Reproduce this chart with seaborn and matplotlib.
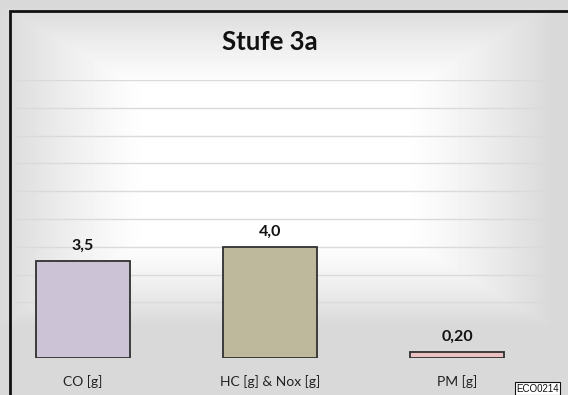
import numpy as np
import pandas as pd
import matplotlib
matplotlib.use("Agg")
import matplotlib.pyplot as plt
from matplotlib.patches import Rectangle
import seaborn as sns

# ---- data ----
categories = ["CO [g]", "HC [g] & Nox [g]", "PM [g]"]
values = [3.5, 4.0, 0.20]
value_labels = ["3,5", "4,0", "0,20"]
bar_colors = ["#ccc0da", "#c4bd97", "#f2b9b9"]
title = "Stufe 3a"
corner_tag = "ECO0214"

W, H = 568, 395
sns.set_theme(style="white")
plt.rcParams["font.family"] = ["Lato", "DejaVu Sans"]

fig = plt.figure(figsize=(W / 100, H / 100), dpi=100)

# background gradient (grey edges, white centre)
bg = fig.add_axes([0, 0, 1, 1], zorder=-10)
yy, xx = np.mgrid[0:H, 0:W]
cx, cy = 275, 165
dx = np.abs(xx - cx) / 290.0
dy = np.abs(yy - cy) / 160.0
d = np.clip(np.maximum(dx * 1.05, dy), 0, 1)
t = np.clip((d - 0.45) / 0.55, 0, 1)
img = 1.0 - 0.15 * t ** 1.3
bg.imshow(img, cmap="gray", vmin=0, vmax=1, aspect="auto", extent=[0, W, H, 0])
bg.set_xlim(0, W)
bg.set_ylim(H, 0)
bg.axis("off")

# plot axes in pixel coordinates
left_px, right_px = 15, 568
top_px, base_px = 80, 358
ax = fig.add_axes([left_px / W, (H - base_px) / H,
                   (right_px - left_px) / W, (base_px - top_px) / H])
ax.patch.set_alpha(0)

df = pd.DataFrame({"cat": categories, "val": values})
sns.barplot(data=df, x="cat", y="val", hue="cat", palette=bar_colors,
            width=0.5, edgecolor="#303030", linewidth=1.3, legend=False,
            ax=ax, zorder=3)

x0_px, step_px = 83, 187
ax.set_xlim((left_px - x0_px) / step_px, (right_px - x0_px) / step_px)
ax.set_ylim(0, 10)
ax.set_yticks(np.arange(0, 11, 1))
ax.yaxis.grid(True, color="#dadada", linewidth=1.0, zorder=0)
ax.xaxis.grid(False)
ax.set_yticklabels([])
ax.tick_params(axis="y", length=0)
ax.tick_params(axis="x", length=0, pad=12, labelsize=10, labelcolor="#222222")
ax.set_xlabel("")
ax.set_ylabel("")
for s in ax.spines.values():
    s.set_visible(False)

for i, (v, lab) in enumerate(zip(values, value_labels)):
    ax.annotate(lab, (i, v), xytext=(0, 6), textcoords="offset points",
                ha="center", va="bottom", fontsize=11.5, fontweight="bold",
                color="#111111")

fig.text(270 / W, 1 - 42 / H, title, ha="center", va="center",
         fontsize=18.5, fontweight="bold", color="#111111")

# outer frame
fig.patches.append(Rectangle((10 / W, -0.1), 1.2, (H - 11) / H + 0.1,
                             transform=fig.transFigure, fill=False,
                             edgecolor="#111111", linewidth=2.0))

# corner tag
fig.text(516 / W, 1.5 / H, corner_tag, ha="left", va="bottom",
         fontsize=7, family=["Liberation Sans", "DejaVu Sans"], color="#111111",
         bbox=dict(boxstyle="square,pad=0.12", facecolor="white",
                   edgecolor="#111111", linewidth=0.8))

fig.savefig("out.png", dpi=100)
